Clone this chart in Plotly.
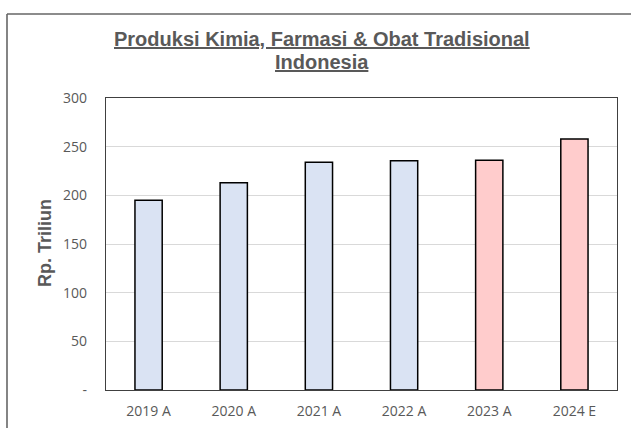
import plotly.graph_objects as go

categories = ["2019 A", "2020 A", "2021 A", "2022 A", "2023 A", "2024 E"]
values = [195, 213, 234, 235.5, 236, 258]
bar_colors = ["#DAE3F3", "#DAE3F3", "#DAE3F3", "#DAE3F3", "#FFCCCC", "#FFCCCC"]
y_ticks = [0, 50, 100, 150, 200, 250, 300]
y_tick_labels = ["-", "50", "100", "150", "200", "250", "300"]
title_lines = ["Produksi Kimia, Farmasi & Obat Tradisional", "Indonesia"]
y_title = "Rp. Triliun"

W, H = 631, 428
L, R, T, B = 106, 14, 98, 38
pw, ph = W - L - R, H - T - B


def px_x(px):
    return (px - L) / pw


def px_y(py):
    return (H - B - py) / ph


fig = go.Figure(go.Bar(
    x=categories, y=values,
    marker=dict(color=bar_colors, line=dict(color="#000000", width=1.5)),
    width=0.32,
))

title_font = dict(family="Liberation Sans, Arial", size=20, color="#595959")
annotations = [
    dict(text="<u><b>" + title_lines[0] + "</b></u>", xref="paper", yref="paper",
         x=px_x(322), y=px_y(39), xanchor="center", yanchor="middle",
         showarrow=False, font=title_font),
    dict(text="<u><b>" + title_lines[1] + "</b></u>", xref="paper", yref="paper",
         x=px_x(322), y=px_y(61.5), xanchor="center", yanchor="middle",
         showarrow=False, font=title_font),
    dict(text="<b>" + y_title + "</b>", xref="paper", yref="paper",
         x=px_x(45), y=px_y(243), xanchor="center", yanchor="middle",
         textangle=-90, showarrow=False,
         font=dict(family="Liberation Sans, Arial", size=18, color="#595959")),
]

fig.update_layout(
    width=W, height=H,
    margin=dict(l=L, r=R, t=T, b=B, autoexpand=False),
    paper_bgcolor="white", plot_bgcolor="white",
    showlegend=False,
    annotations=annotations,
    modebar=dict(bgcolor="rgba(0,0,0,0)"),
    xaxis=dict(
        showline=True, linecolor="#404040", linewidth=1.3, mirror=True,
        ticks="", ticklabelstandoff=8, automargin=False,
        tickfont=dict(family="Open Sans, Liberation Sans", size=14, color="#595959"),
        showgrid=False,
    ),
    yaxis=dict(
        range=[0, 300], tickvals=y_ticks, ticktext=y_tick_labels,
        showline=True, linecolor="#404040", linewidth=1.3, mirror=True,
        showgrid=True, gridcolor="#D9D9D9", gridwidth=1,
        ticks="", ticklabelstandoff=15, automargin=False,
        tickfont=dict(family="Open Sans, Liberation Sans", size=14, color="#595959"),
        zeroline=False,
    ),
    shapes=[
        dict(type="line", xref="paper", yref="paper",
             x0=px_x(7), x1=px_x(631), y0=px_y(14), y1=px_y(14),
             line=dict(color="#666666", width=1.6), layer="above"),
        dict(type="line", xref="paper", yref="paper",
             x0=px_x(7), x1=px_x(7), y0=px_y(14), y1=px_y(428),
             line=dict(color="#666666", width=1.6), layer="above"),
    ],
)

fig.write_html("out.html", config={"displayModeBar": False})
